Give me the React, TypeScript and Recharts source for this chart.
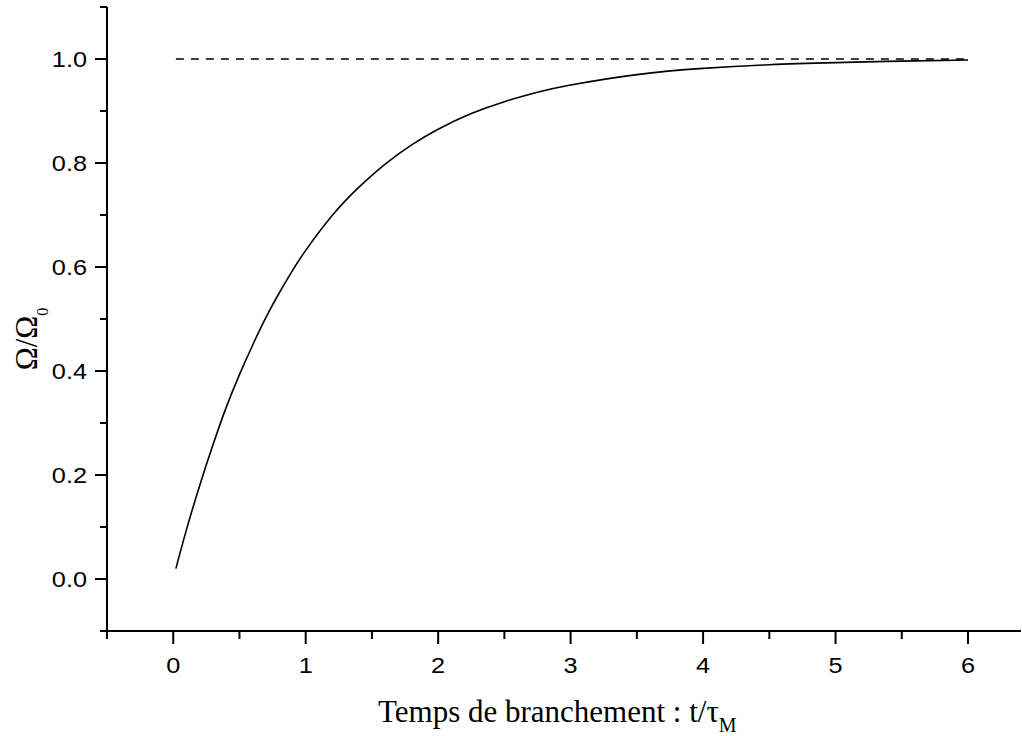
import React from "react";
import { LineChart, Line, XAxis, YAxis, ReferenceLine } from "recharts";

// Branching time t/τM and normalised speed Ω/Ω0
const timeValues = [0.02, 0.1, 0.2, 0.3, 0.4, 0.5, 0.6, 0.7, 0.8, 0.9, 1.0, 1.2, 1.4, 1.6, 1.8, 2.0, 2.25, 2.5, 2.75, 3.0, 3.5, 4.0, 4.5, 5.0, 5.5, 6.0];
const omegaValues = [0.02, 0.095, 0.18, 0.258, 0.33, 0.393, 0.45, 0.503, 0.55, 0.593, 0.632, 0.699, 0.753, 0.798, 0.835, 0.865, 0.895, 0.918, 0.936, 0.95, 0.97, 0.982, 0.989, 0.993, 0.996, 0.998];

// Asymptote (dashed)
const asymptoteX = [0.02, 6];
const asymptoteY = 1.0;

const xTicks = [-0.5, 0, 0.5, 1, 1.5, 2, 2.5, 3, 3.5, 4, 4.5, 5, 5.5, 6];
const yTicks = [-0.1, 0, 0.1, 0.2, 0.3, 0.4, 0.5, 0.6, 0.7, 0.8, 0.9, 1.0, 1.1];
const xDomain: [number, number] = [-0.5, 6.4];
const yDomain: [number, number] = [-0.1, 1.1];

const xTitleMain = "Temps de branchement : t/τ";
const xTitleSub = "M";
const yTitleMain = "Ω/Ω";
const yTitleSub = "0";

const data = timeValues.map((t, i) => ({ t, v: omegaValues[i] }));

const SANS = "'Liberation Sans', Arial, Helvetica, sans-serif";
const SERIF = "'Liberation Serif', 'Times New Roman', Times, serif";

const XTick = (props: any) => {
  const { x, y, payload } = props;
  const v = payload.value as number;
  const major = Math.abs(v - Math.round(v)) < 1e-6;
  return (
    <g>
      <line x1={x} x2={x} y1={y} y2={y + (major ? 13 : 8)} stroke="#000" strokeWidth={2} />
      {major && (
        <text
          transform={`translate(${x},${y + 42}) scale(1.15,1)`}
          textAnchor="middle"
          fontFamily={SANS}
          fontSize={22}
          fill="#000"
        >
          {String(v)}
        </text>
      )}
    </g>
  );
};

const YTick = (props: any) => {
  const { x, y, payload } = props;
  const v = payload.value as number;
  const major = Math.abs(v * 5 - Math.round(v * 5)) < 1e-6 && v >= -1e-6 && v <= 1.0 + 1e-6;
  return (
    <g>
      <line x1={x - (major ? 12 : 7)} x2={x} y1={y} y2={y} stroke="#000" strokeWidth={2} />
      {major && (
        <text
          transform={`translate(${x - 20},${y + 7.5}) scale(1.15,1)`}
          textAnchor="end"
          fontFamily={SANS}
          fontSize={22}
          fill="#000"
        >
          {v.toFixed(1)}
        </text>
      )}
    </g>
  );
};

const XTitle = (props: any) => {
  const vb = props.viewBox || { x: 107, y: 631 };
  return (
    <text x={vb.x + 271} y={vb.y + 91} textAnchor="start" fontFamily={SERIF} fontSize={31} fill="#000">
      {xTitleMain}
      <tspan dy={10} fontSize={20}>{xTitleSub}</tspan>
    </text>
  );
};

const YTitle = (props: any) => {
  const vb = props.viewBox || { x: 0, y: 7 };
  return (
    <text
      transform={`translate(${vb.x + 37},${vb.y + 332}) rotate(-90)`}
      textAnchor="middle"
      fontFamily={SERIF}
      fontSize={31}
      fill="#000"
    >
      {yTitleMain}
      <tspan dy={11} fontSize={16}>{yTitleSub}</tspan>
    </text>
  );
};

export default function App() {
  return (
    <div style={{ position: "absolute", left: 0, top: 0, width: 1022, height: 736, background: "#fff" }}>
      <LineChart width={1022} height={736} data={data} margin={{ top: 7, right: 1, bottom: 0, left: 0 }}>
        <XAxis
          dataKey="t"
          type="number"
          domain={xDomain}
          allowDataOverflow
          ticks={xTicks}
          interval={0}
          height={105}
          tickLine={false}
          tickSize={0}
          tickMargin={0}
          tick={<XTick />}
          axisLine={{ stroke: "#000", strokeWidth: 2 }}
          label={{ content: <XTitle /> } as any}
        />
        <YAxis
          type="number"
          domain={yDomain}
          allowDataOverflow
          ticks={yTicks}
          interval={0}
          width={107}
          tickLine={false}
          tickSize={0}
          tickMargin={0}
          tick={<YTick />}
          axisLine={{ stroke: "#000", strokeWidth: 2 }}
          label={{ content: <YTitle /> } as any}
        />
        <ReferenceLine
          segment={[
            { x: asymptoteX[0], y: asymptoteY },
            { x: asymptoteX[1], y: asymptoteY },
          ]}
          stroke="#000"
          strokeWidth={1.5}
          strokeDasharray="8 7"
          ifOverflow="visible"
        />
        <Line
          type="natural"
          dataKey="v"
          stroke="#000"
          strokeWidth={1.6}
          dot={false}
          activeDot={false}
          isAnimationActive={false}
        />
      </LineChart>
    </div>
  );
}
